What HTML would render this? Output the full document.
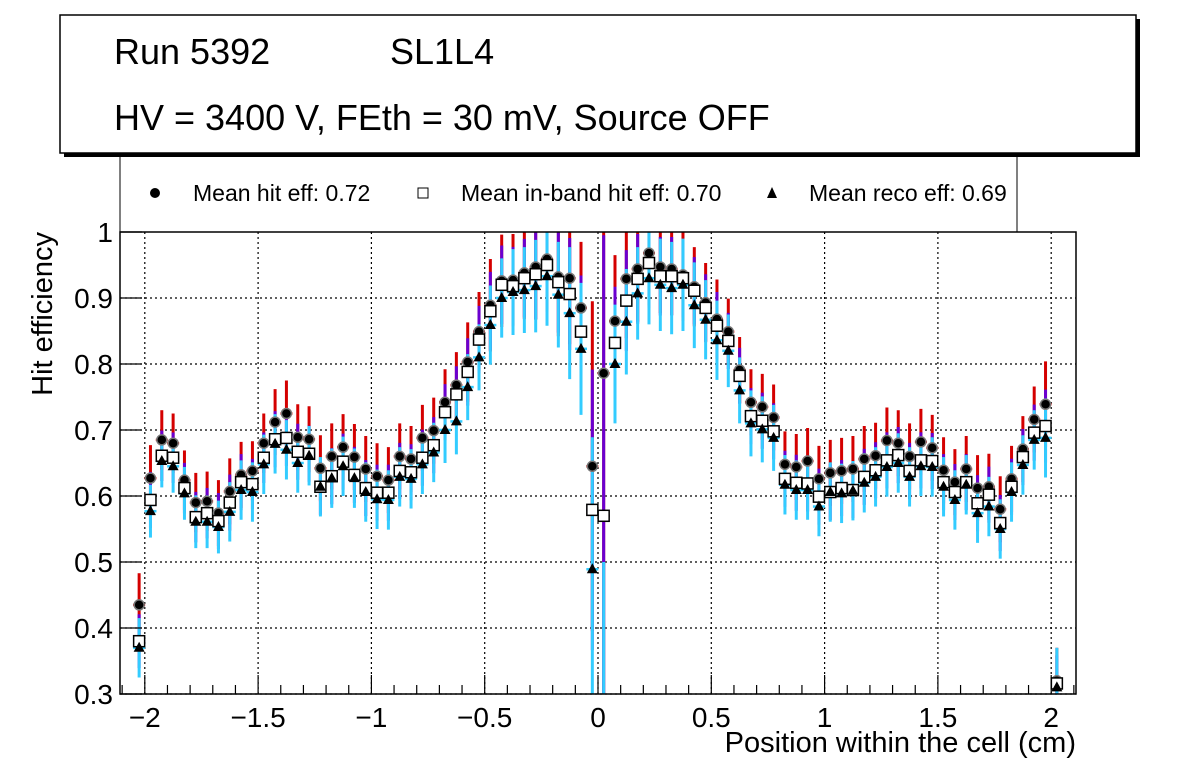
<!DOCTYPE html>
<html><head><meta charset="utf-8"><style>
body{margin:0;background:#fff;}
svg{display:block;font-family:"Liberation Sans",sans-serif;}
</style></head><body>
<svg id="chart" width="1196" height="772" viewBox="0 0 1196 772">
<rect x="0" y="0" width="1196" height="772" fill="#fff"/>
<g>
<rect x="64" y="19" width="1076" height="138" fill="#000"/>
<rect x="60" y="15" width="1076" height="138" fill="#fff" stroke="#000" stroke-width="1.5"/>
<text x="114" y="64" font-size="36">Run 5392</text>
<text x="390" y="64" font-size="36">SL1L4</text>
<text x="114" y="130" font-size="36">HV = 3400 V, FEth = 30 mV, Source OFF</text>
</g>
<g>
<path d="M120 155 V232 M1017 155 V232" stroke="#000" stroke-width="1"/>
<circle cx="155" cy="193" r="5" fill="#000"/>
<text x="193" y="201" font-size="23">Mean hit  eff: 0.72</text>
<rect x="418" y="188" width="10" height="10" fill="#fff" stroke="#000"/>
<text x="461" y="201" font-size="23">Mean in-band hit eff: 0.70</text>
<path d="M772 187 L777 198 L767 198 Z" fill="#000"/>
<text x="809" y="201" font-size="23">Mean reco eff: 0.69</text>
</g>
<g id="grid"></g>
<g id="marks"></g>
<g id="axes"></g>
<text x="1076" y="752" font-size="29" text-anchor="end">Position within the cell (cm)</text>
<text transform="translate(52,232) rotate(-90)" font-size="29" text-anchor="end">Hit efficiency</text>
</svg>
<script>
const hitEff=[0.435,0.627,0.685,0.68,0.624,0.59,0.592,0.574,0.607,0.632,0.638,0.68,0.712,0.725,0.689,0.686,0.642,0.66,0.674,0.659,0.641,0.63,0.624,0.66,0.656,0.688,0.699,0.742,0.768,0.803,0.849,0.889,0.926,0.927,0.938,0.947,0.959,0.932,0.93,0.885,0.645,0.786,0.865,0.929,0.944,0.968,0.947,0.944,0.935,0.917,0.893,0.868,0.849,0.791,0.742,0.735,0.719,0.648,0.644,0.653,0.626,0.635,0.638,0.641,0.656,0.661,0.684,0.68,0.66,0.682,0.673,0.639,0.621,0.641,0.612,0.614,0.58,0.626,0.671,0.716,0.739,0.32];
const inbandEff=[0.38,0.594,0.661,0.658,0.612,0.568,0.574,0.562,0.59,0.621,0.618,0.658,0.686,0.688,0.667,0.664,0.614,0.63,0.652,0.632,0.612,0.605,0.605,0.638,0.636,0.658,0.677,0.727,0.754,0.788,0.837,0.88,0.92,0.918,0.93,0.936,0.95,0.924,0.906,0.849,0.579,0.57,0.832,0.896,0.929,0.953,0.933,0.933,0.93,0.911,0.885,0.858,0.835,0.782,0.721,0.714,0.698,0.626,0.62,0.619,0.599,0.606,0.612,0.609,0.629,0.639,0.654,0.662,0.638,0.654,0.653,0.621,0.606,0.621,0.589,0.602,0.559,0.614,0.659,0.696,0.706,0.316];
const recoEff=[0.37,0.577,0.653,0.645,0.604,0.561,0.561,0.553,0.576,0.609,0.606,0.648,0.679,0.67,0.65,0.661,0.614,0.627,0.645,0.627,0.606,0.595,0.594,0.629,0.626,0.648,0.666,0.70,0.713,0.765,0.81,0.859,0.90,0.909,0.912,0.918,0.933,0.905,0.877,0.823,0.489,0.2,0.80,0.864,0.907,0.93,0.92,0.915,0.92,0.889,0.867,0.836,0.82,0.76,0.71,0.701,0.688,0.617,0.609,0.609,0.584,0.606,0.604,0.608,0.62,0.629,0.644,0.65,0.629,0.645,0.644,0.614,0.594,0.617,0.574,0.584,0.55,0.606,0.647,0.685,0.688,0.31];
const errHit=[0.048,0.05,0.045,0.045,0.045,0.045,0.045,0.05,0.05,0.05,0.045,0.045,0.05,0.05,0.05,0.05,0.05,0.05,0.05,0.05,0.05,0.05,0.05,0.05,0.05,0.05,0.05,0.05,0.05,0.06,0.06,0.07,0.07,0.07,0.07,0.08,0.08,0.09,0.1,0.1,0.25,0.5,0.1,0.09,0.08,0.08,0.07,0.07,0.07,0.06,0.06,0.06,0.05,0.05,0.05,0.05,0.05,0.05,0.05,0.05,0.05,0.05,0.05,0.05,0.05,0.05,0.05,0.05,0.05,0.05,0.05,0.05,0.05,0.05,0.05,0.05,0.05,0.05,0.05,0.05,0.065,0.05];
const errReco=[0.045,0.04,0.04,0.04,0.04,0.04,0.04,0.04,0.045,0.045,0.045,0.045,0.045,0.045,0.045,0.045,0.045,0.045,0.045,0.045,0.045,0.045,0.045,0.045,0.045,0.045,0.045,0.05,0.05,0.05,0.05,0.06,0.06,0.065,0.065,0.07,0.075,0.08,0.1,0.1,0.2,0.3,0.09,0.08,0.07,0.07,0.07,0.07,0.07,0.065,0.06,0.06,0.055,0.05,0.05,0.05,0.05,0.045,0.045,0.045,0.045,0.045,0.045,0.045,0.045,0.045,0.045,0.045,0.045,0.045,0.045,0.045,0.045,0.045,0.045,0.045,0.045,0.045,0.045,0.045,0.06,0.06];
const xTicks=[-2,-1.5,-1,-0.5,0,0.5,1,1.5,2];
const xTickLabels=["\u22122","\u22121.5","\u22121","\u22120.5","0","0.5","1","1.5","2"];
const yTicks=[0.3,0.4,0.5,0.6,0.7,0.8,0.9,1];
const yTickLabels=["0.3","0.4","0.5","0.6","0.7","0.8","0.9","1"];
const binStart=-2.025, binWidth=0.05;

const X0=120,X1=1076,Y0=232,Y1=694;
const xs=v=>598+v*226.6;
const ys=v=>Y0+(1-v)*660;
const clampY=v=>Math.max(Y0,Math.min(Y1,v));
const NS="http://www.w3.org/2000/svg";
function mk(tag,attrs,parent){const e=document.createElementNS(NS,tag);for(const k in attrs)e.setAttribute(k,attrs[k]);parent.appendChild(e);return e;}
const grid=document.getElementById('grid'),marks=document.getElementById('marks'),axes=document.getElementById('axes');
xTicks.forEach(t=>{const l=mk('line',{x1:xs(t),x2:xs(t),y1:Y0,y2:Y1,stroke:'#000','stroke-width':1.2,'stroke-dasharray':'2,3'},grid);

});
yTicks.forEach(t=>{if(t>=1)return;const l=mk('line',{x1:X0,x2:X1,y1:ys(t),y2:ys(t),stroke:'#000','stroke-width':1.2,'stroke-dasharray':'2,3'},grid);

});
function vbar(x,c,e,color,w){const a=clampY(ys(c+e)),b=clampY(ys(c-e));if(b<=a)return;const l=mk('line',{x1:x,x2:x,y1:a,y2:b,stroke:color,'stroke-width':w},marks);

}
function hbar(x,v,color){const y=ys(v);if(y<Y0||y>Y1)return;const l=mk('line',{x1:x-6,x2:x+6,y1:y,y2:y,stroke:color,'stroke-width':2.5},marks);

}
const n=hitEff.length;
for(let i=0;i<n;i++){const x=xs(binStart+i*binWidth);
vbar(x,hitEff[i],errHit[i],'#d40000',3);hbar(x,hitEff[i],'#d40000');}
for(let i=0;i<n;i++){const x=xs(binStart+i*binWidth);
vbar(x,inbandEff[i],errHit[i]*0.85,'#6a00d0',3);hbar(x,inbandEff[i],'#6a00d0');}
for(let i=0;i<n;i++){const x=xs(binStart+i*binWidth);
vbar(x,recoEff[i],errReco[i],'#33ccff',3);hbar(x,recoEff[i],'#33ccff');}
for(let i=0;i<n;i++){const x=xs(binStart+i*binWidth);
let y=ys(hitEff[i]);if(y>=Y0&&y<=Y1){const c=mk('circle',{cx:x,cy:y,r:5,fill:'#000',stroke:'#777','stroke-width':1.5},marks);

}
y=ys(inbandEff[i]);if(y>=Y0&&y<=Y1){const r=mk('rect',{x:x-5.5,y:y-5.5,width:11,height:11,fill:'#fff',stroke:'#000','stroke-width':1.5},marks);

}
y=ys(recoEff[i]);if(y>=Y0&&y<=Y1){const p=mk('path',{d:`M${x} ${y-6} L${x+5.5} ${y+4} L${x-5.5} ${y+4} Z`,fill:'#000'},marks);

}}
const fr=mk('rect',{x:X0,y:Y0,width:X1-X0,height:Y1-Y0,fill:'none',stroke:'#000','stroke-width':1.5},axes);


for(let k=-21;k<=21;k++){const v=k/10,x=xs(v);if(x<X0||x>X1)continue;const major=Math.abs(k%5)===0;
const t=mk('line',{x1:x,x2:x,y1:Y1,y2:Y1-(major?19:9),stroke:'#000','stroke-width':1.2},axes);

}
xTicks.forEach((t,i)=>{const tx=mk('text',{x:xs(t),y:727,'font-size':28,'text-anchor':'middle'},axes);tx.textContent=xTickLabels[i];

});
yTicks.forEach((t,i)=>{const l=mk('line',{x1:X0,x2:X0+22,y1:ys(t),y2:ys(t),stroke:'#000','stroke-width':1.2},axes);


const tx=mk('text',{x:113,y:ys(t)+10,'font-size':28,'text-anchor':'end'},axes);tx.textContent=yTickLabels[i];

});
</script>
</body></html>
